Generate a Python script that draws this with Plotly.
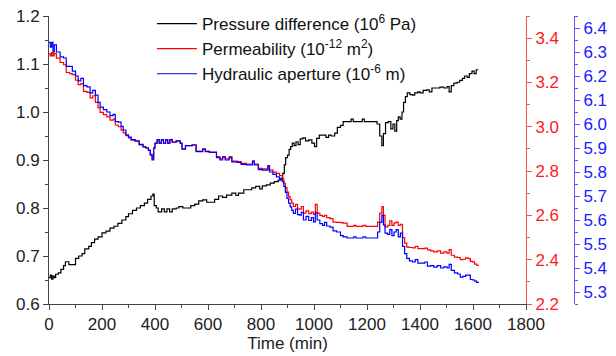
import plotly.graph_objects as go

# ---- data ----
t_pressure = [0, 5, 10, 15, 20, 25, 35, 45, 55, 62, 75, 90, 100, 112, 125, 135, 150, 160, 172, 185,
              200, 215, 230, 245, 260, 275, 290, 300, 315, 330, 345, 360, 372, 385, 392, 397, 405, 412,
              425, 435, 445, 455, 465, 480, 490, 505, 520, 535, 550, 565, 580, 595, 610, 625, 640, 655,
              670, 690, 705, 715, 735, 750, 765, 780, 795, 805, 820, 835, 850, 865, 875, 882, 888, 893,
              900, 906, 912, 918, 925, 932, 940, 948, 958, 968, 980, 992, 1002, 1010, 1020, 1035, 1045,
              1055, 1065, 1078, 1088, 1100, 1110, 1130, 1140, 1148, 1175, 1182, 1190, 1230, 1238, 1248,
              1256, 1262, 1270, 1280, 1290, 1298, 1305, 1312, 1318, 1325, 1332, 1338, 1345, 1352, 1362,
              1372, 1380, 1392, 1400, 1412, 1425, 1435, 1445, 1460, 1475, 1490, 1502, 1510, 1518, 1528,
              1540, 1550, 1560, 1568, 1578, 1586, 1596, 1604, 1612, 1620]
pressure = [0.655, 0.66, 0.652, 0.658, 0.655, 0.662, 0.665, 0.672, 0.68, 0.688, 0.682, 0.682, 0.695,
            0.70, 0.705, 0.715, 0.72, 0.728, 0.735, 0.74, 0.748, 0.752, 0.758, 0.762, 0.768, 0.775,
            0.782, 0.788, 0.795, 0.80, 0.805, 0.81, 0.818, 0.825, 0.829, 0.805, 0.80, 0.792, 0.798,
            0.792, 0.798, 0.792, 0.798, 0.80, 0.803, 0.80, 0.80, 0.805, 0.808, 0.815, 0.817, 0.812,
            0.812, 0.818, 0.825, 0.822, 0.827, 0.831, 0.826, 0.831, 0.838, 0.838, 0.842, 0.845, 0.84,
            0.846, 0.848, 0.852, 0.855, 0.858, 0.862, 0.872, 0.89, 0.905, 0.91, 0.922, 0.928, 0.935,
            0.93, 0.938, 0.932, 0.944, 0.946, 0.94, 0.942, 0.935, 0.928, 0.945, 0.952, 0.952, 0.947,
            0.952, 0.95, 0.956, 0.968, 0.972, 0.98, 0.98, 0.985, 0.98, 0.98, 0.985, 0.98, 0.98, 0.975,
            0.95, 0.93, 0.955, 0.978, 0.98, 0.965, 0.975, 0.96, 0.982, 0.99, 0.985, 1.0, 1.02, 1.032,
            1.04, 1.036, 1.035, 1.04, 1.042, 1.04, 1.045, 1.046, 1.042, 1.05, 1.05, 1.052, 1.05, 1.053,
            1.042, 1.055, 1.06, 1.062, 1.066, 1.07, 1.075, 1.072, 1.08, 1.085, 1.08, 1.088, 1.088]

t_flow = [0, 5, 10, 15, 20, 28, 35, 42, 55, 65, 78, 88, 100, 110, 120, 130, 143, 155, 165, 175, 185,
          193, 205, 218, 230, 242, 250, 262, 272, 280, 290, 300, 310, 325, 340, 355, 365, 375, 382,
          389, 395, 400, 408, 416, 424, 432, 440, 448, 456, 465, 480, 495, 502, 515, 525, 540, 555,
          570, 580, 590, 605, 620, 632, 645, 655, 665, 680, 690, 710, 725, 745, 760, 768, 775, 790,
          805, 820, 826, 832, 845, 858, 870, 880, 886, 892, 898, 904, 910, 916, 922, 930, 938, 945,
          952, 960, 970, 980, 990, 998, 1005, 1012, 1022, 1032, 1040, 1048, 1060, 1072, 1085, 1100,
          1110, 1125, 1140, 1150, 1158, 1175, 1185, 1195, 1230, 1240, 1248, 1256, 1262, 1268, 1278,
          1286, 1294, 1302, 1310, 1318, 1326, 1334, 1342, 1350, 1360, 1372, 1382, 1392, 1405, 1418,
          1428, 1440, 1452, 1465, 1478, 1490, 1502, 1510, 1518, 1530, 1542, 1552, 1562, 1572, 1582,
          1590, 1598, 1606, 1614, 1620]
aperture = [6.34, 6.32, 6.34, 6.30, 6.33, 6.30, 6.30, 6.28, 6.275, 6.24, 6.24, 6.22, 6.20, 6.18, 6.19,
            6.16, 6.155, 6.13, 6.14, 6.12, 6.09, 6.07, 6.06, 6.05, 6.035, 6.04, 6.01, 6.008, 5.99,
            5.975, 5.955, 5.945, 5.935, 5.93, 5.915, 5.905, 5.90, 5.89, 5.87, 5.85, 5.90, 5.92, 5.935,
            5.92, 5.935, 5.92, 5.935, 5.92, 5.935, 5.925, 5.93, 5.92, 5.895, 5.91, 5.91, 5.9125, 5.885,
            5.885, 5.895, 5.885, 5.882, 5.882, 5.86, 5.85, 5.862, 5.85, 5.86, 5.842, 5.84, 5.832, 5.83,
            5.83, 5.845, 5.83, 5.81, 5.808, 5.808, 5.825, 5.80, 5.79, 5.78, 5.77, 5.76, 5.74, 5.715,
            5.69, 5.67, 5.655, 5.64, 5.628, 5.645, 5.622, 5.62, 5.632, 5.60, 5.615, 5.598, 5.61, 5.592,
            5.63, 5.60, 5.585, 5.578, 5.59, 5.575, 5.57, 5.555, 5.55, 5.535, 5.53, 5.525, 5.525, 5.53,
            5.525, 5.525, 5.53, 5.525, 5.525, 5.55, 5.59, 5.62, 5.58, 5.545, 5.54, 5.56, 5.535, 5.55,
            5.56, 5.53, 5.545, 5.49, 5.46, 5.44, 5.43, 5.425, 5.435, 5.42, 5.42, 5.425, 5.408, 5.41,
            5.404, 5.41, 5.40, 5.405, 5.40, 5.415, 5.39, 5.38, 5.375, 5.362, 5.365, 5.37, 5.37, 5.352,
            5.35, 5.345, 5.34, 5.338]
permeability = [3.33, 3.32, 3.335, 3.32, 3.33, 3.31, 3.31, 3.29, 3.28, 3.245, 3.24, 3.235, 3.21, 3.19,
                3.195, 3.16, 3.155, 3.13, 3.14, 3.11, 3.085, 3.065, 3.055, 3.045, 3.03, 3.035, 3.008,
                3.0, 2.985, 2.972, 2.96, 2.95, 2.94, 2.935, 2.918, 2.91, 2.905, 2.895, 2.875, 2.855,
                2.905, 2.925, 2.94, 2.925, 2.94, 2.925, 2.94, 2.925, 2.94, 2.93, 2.935, 2.925, 2.90,
                2.915, 2.915, 2.918, 2.89, 2.89, 2.90, 2.89, 2.886, 2.886, 2.865, 2.855, 2.865, 2.855,
                2.865, 2.845, 2.843, 2.835, 2.832, 2.832, 2.845, 2.832, 2.812, 2.81, 2.81, 2.825, 2.805,
                2.795, 2.79, 2.78, 2.765, 2.745, 2.725, 2.705, 2.685, 2.67, 2.655, 2.64, 2.65, 2.63,
                2.628, 2.64, 2.61, 2.62, 2.608, 2.615, 2.605, 2.65, 2.61, 2.60, 2.595, 2.60, 2.59,
                2.585, 2.57, 2.568, 2.567, 2.565, 2.55, 2.55, 2.555, 2.55, 2.55, 2.555, 2.55, 2.55,
                2.57, 2.61, 2.64, 2.60, 2.548, 2.555, 2.575, 2.555, 2.566, 2.57, 2.555, 2.56, 2.50,
                2.475, 2.457, 2.455, 2.453, 2.46, 2.45, 2.45, 2.452, 2.444, 2.44, 2.435, 2.44, 2.43,
                2.435, 2.43, 2.445, 2.42, 2.412, 2.41, 2.40, 2.402, 2.408, 2.405, 2.392, 2.39, 2.38,
                2.375, 2.372]

x_ticks = [0, 200, 400, 600, 800, 1000, 1200, 1400, 1600, 1800]

FONT = "Liberation Sans, Arial, sans-serif"
RED = "#ff1a1a"
BLUE = "#1a1aff"

fig = go.Figure()
fig.add_trace(go.Scatter(x=t_pressure, y=pressure, mode="lines", line_shape="hv",
                         line=dict(color="black", width=1.2),
                         name="Pressure difference (10<sup>6</sup> Pa)"))
fig.add_trace(go.Scatter(x=t_flow, y=permeability, mode="lines", line_shape="hv",
                         line=dict(color="#ff0000", width=1.2), yaxis="y2",
                         name="Permeability (10<sup>-12</sup> m<sup>2</sup>)"))
fig.add_trace(go.Scatter(x=t_flow, y=aperture, mode="lines", line_shape="hv",
                         line=dict(color="#0000ff", width=1.2), yaxis="y3",
                         name="Hydraulic aperture (10<sup>-6</sup> m)"))

L, R, T, B = 49, 16, 16, 52
W, H = 616, 356
pw = W - L - R
x_end = (526 - L) / pw
blue_pos = (574 - L) / pw

fig.update_layout(
    width=W, height=H,
    margin=dict(l=L, r=R, t=T, b=B, pad=0, autoexpand=False),
    paper_bgcolor="white", plot_bgcolor="white",
    font=dict(family=FONT, size=17, color="#222"),
    showlegend=True,
    legend=dict(x=(152 - L) / pw, y=(304 - 6) / 288, xanchor="left", yanchor="top",
                bgcolor="rgba(0,0,0,0)", font=dict(size=17, color="#111"),
                itemwidth=40, tracegroupgap=0),
    xaxis=dict(domain=[0, x_end], range=[0, 1800], tickvals=x_ticks,
               ticks="outside", ticklen=5, tickwidth=1, tickcolor="#444",
               minor=dict(dtick=100, tick0=0, ticks="outside", ticklen=3, tickcolor="#444"),
               showline=True, linecolor="#444", linewidth=1, showgrid=False, zeroline=False,
               title=dict(text="Time (min)", font=dict(size=17), standoff=3),
               tickfont=dict(size=17, color="#222")),
    yaxis=dict(range=[0.6, 1.2], dtick=0.1, tick0=0.6, tickformat=".1f",
               ticks="outside", ticklen=5, tickcolor="#444",
               minor=dict(dtick=0.05, ticks="outside", ticklen=3, tickcolor="#444"),
               showline=True, linecolor="#444", linewidth=1, showgrid=False, zeroline=False,
               tickfont=dict(size=17, color="#222")),
    yaxis2=dict(overlaying="y", side="right", anchor="x", range=[2.2, 3.5], dtick=0.2, tick0=2.2,
                tickformat=".1f", ticks="outside", ticklen=5, tickcolor="#ff5050",
                minor=dict(dtick=0.1, ticks="outside", ticklen=3, tickcolor="#ff5050"),
                showline=True, linecolor="#ff5050", linewidth=1, showgrid=False, zeroline=False,
                tickfont=dict(size=17, color=RED)),
    yaxis3=dict(overlaying="y", side="right", anchor="free", position=blue_pos,
                range=[5.25, 6.45], dtick=0.1, tick0=5.3, tickformat=".1f",
                ticks="outside", ticklen=5, tickcolor="#5a5aff",
                minor=dict(dtick=0.05, ticks="outside", ticklen=3, tickcolor="#5a5aff"),
                showline=True, linecolor="#5a5aff", linewidth=1, showgrid=False, zeroline=False,
                tickfont=dict(size=17, color=BLUE)),
)

fig.write_html("out.html")
